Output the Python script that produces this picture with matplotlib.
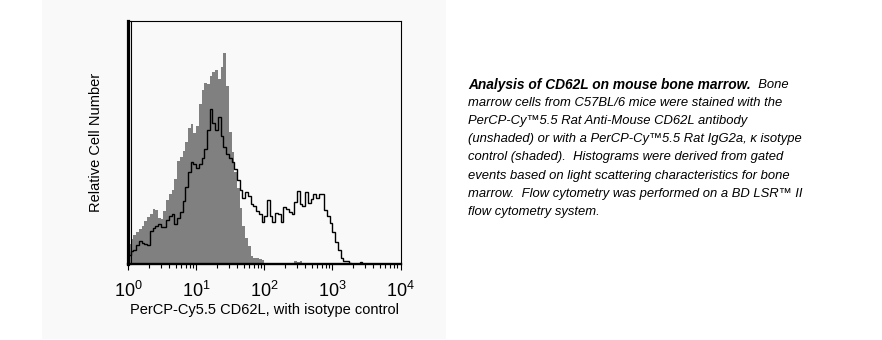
"""
CD62L staining of mouse bone marrow: PerCP-Cy5.5 histogram overlay with isotype control.
"""

import numpy as np
import matplotlib
matplotlib.use("Agg")
import matplotlib.pyplot as plt
from matplotlib.patches import Rectangle
from matplotlib.ticker import FixedLocator, FuncFormatter
from matplotlib.transforms import ScaledTranslation

plt.rcParams["font.family"] = ["Liberation Sans", "DejaVu Sans"]
plt.rcParams["mathtext.default"] = "regular"

# Fluorescence channels: 100 bins across four log decades (10^0 .. 10^4)
N_BINS = 100
DECADES = (0, 4)

# Isotype control (shaded), relative counts per channel
isotype_counts = [
    20, 25, 29, 32, 35, 38, 43, 47, 50, 55,
    54, 46, 45, 53, 64, 70, 74, 85, 103, 107,
    113, 122, 136, 140, 131, 138, 160, 174, 181, 180,
    188, 192, 194, 185, 197, 211, 178, 132, 112, 92,
    76, 56, 38, 26, 18, 8, 6, 6, 5, 4,
    0, 0, 0, 0, 0, 0, 0, 0, 0, 0,
    0, 3, 2, 3, 0, 0, 0, 0, 0, 0,
    0, 0, 0, 0, 0, 0, 0, 0, 0, 0,
    0, 0, 0, 0, 0, 0, 0, 0, 0, 0,
    0, 0, 0, 0, 0, 0, 0, 0, 0, 0,
]

# Anti-mouse CD62L antibody (unshaded), relative counts per channel
cd62l_counts = [
    9, 13, 14, 19, 23, 21, 20, 19, 33, 36,
    38, 40, 37, 37, 44, 48, 50, 40, 46, 52,
    63, 77, 92, 102, 100, 96, 100, 106, 115, 134,
    155, 141, 134, 147, 128, 117, 110, 106, 102, 95,
    84, 74, 66, 72, 68, 60, 58, 53, 50, 42,
    48, 64, 48, 42, 51, 50, 42, 57, 55, 52,
    50, 62, 73, 60, 58, 72, 61, 65, 70, 66,
    70, 70, 54, 48, 41, 32, 22, 14, 6, 3,
    3, 1, 0, 0, 0, 2, 0, 0, 0, 0,
    0, 0, 0, 0, 0, 0, 0, 0, 0, 0,
]

major_ticks = [1, 10, 100, 1000, 10000]
x_label = "PerCP-Cy5.5 CD62L, with isotype control"
y_label = "Relative Cell Number"

caption_title = "Analysis of CD62L on mouse bone marrow."
caption_lines = [
    "  Bone",
    "marrow cells from C57BL/6 mice were stained with the",
    "PerCP-Cy\u21225.5 Rat Anti-Mouse CD62L antibody",
    "(unshaded) or with a PerCP-Cy\u21225.5 Rat IgG2a, \u03ba isotype",
    "control (shaded).  Histograms were derived from gated",
    "events based on light scattering characteristics for bone",
    "marrow.  Flow cytometry was performed on a BD LSR\u2122 II",
    "flow cytometry system.",
]

W, H = 882, 340
PANEL = "#f9f9f9"
CAPTION_SIZE = 9.4
TITLE_SIZE = 9.9


def px(x, y):
    """Pixel position (top-left origin) to figure fraction."""
    return x / W, (H - y) / H


fig = plt.figure(figsize=(W / 100, H / 100), dpi=100)
fig.patch.set_facecolor("white")

# light panel behind the histogram
x0, y0 = px(42, 339)
fig.patches.append(Rectangle((x0, y0), 404 / W, 339 / H, transform=fig.transFigure,
                             facecolor=PANEL, edgecolor="none", zorder=-5))

left, top = px(128, 20.5)
right, bottom = px(400.5, 264)
ax = fig.add_axes([left, bottom, right - left, top - bottom])
ax.set_facecolor(PANEL)

edges = np.logspace(DECADES[0], DECADES[1], N_BINS + 1)
ax.stairs(isotype_counts, edges, fill=True, color="#808080", linewidth=0)
ax.stairs(cd62l_counts, edges, color="black", linewidth=1.0)

ax.set_xscale("log")
ax.set_xlim(edges[0], edges[-1])
ax.set_ylim(0, 243.5)

# frame: thick left and bottom, thin top and right, plus a thin inner line on the left
for side in ("top", "right"):
    ax.spines[side].set_linewidth(0.8)
ax.spines["left"].set_linewidth(2.3)
ax.spines["bottom"].set_linewidth(1.7)
inner = ax.transAxes + ScaledTranslation(3 / 100, 0, fig.dpi_scale_trans)
ax.plot([0, 0], [0, 1], color="black", linewidth=0.8, transform=inner, clip_on=False)

ax.xaxis.set_major_locator(FixedLocator(major_ticks))
ax.xaxis.set_major_formatter(FuncFormatter(lambda v, pos: r"$10^{%d}$" % round(np.log10(v))))
ax.xaxis.set_minor_locator(FixedLocator(
    [m * 10 ** d for d in range(4) for m in range(2, 10)]))
ax.xaxis.set_minor_formatter(FuncFormatter(lambda v, pos: ""))
ax.tick_params(axis="x", which="major", direction="out", length=4.5, width=0.8,
               labelsize=13, pad=8)
ax.tick_params(axis="x", which="minor", direction="out", length=2.6, width=0.8)
ax.set_yticks([])

ax.set_xlabel(x_label, fontsize=10.5, labelpad=1)
ax.set_ylabel(y_label, fontsize=10.5, labelpad=18)

# caption on the right: bold lead-in, then the running italic text
cx, cy = px(468, 85)
title = fig.text(cx, cy, caption_title, fontsize=TITLE_SIZE, fontstyle="italic",
                 fontweight="bold", va="center", ha="left")
ax.annotate(caption_lines[0], xy=(1, 0.5), xycoords=title, fontsize=CAPTION_SIZE,
            fontstyle="italic", va="center", ha="left", annotation_clip=False)
for k, line in enumerate(caption_lines[1:], start=1):
    lx, ly = px(468, 85 + 18.1 * k)
    fig.text(lx, ly, line, fontsize=CAPTION_SIZE, fontstyle="italic", va="center", ha="left")

fig.savefig("out.png", dpi=100, facecolor="white")
